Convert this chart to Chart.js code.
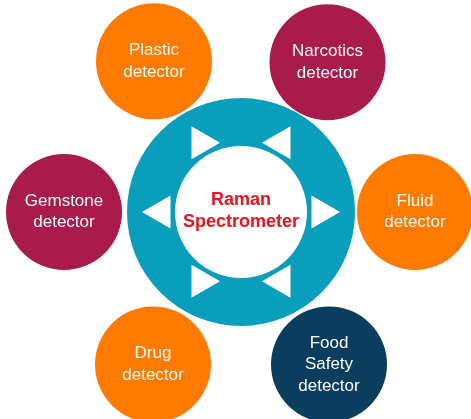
<!DOCTYPE html>
<html><head><meta charset="utf-8">
<script src="https://cdn.jsdelivr.net/npm/chart.js@4.4.1/dist/chart.umd.min.js"></script>
<style>html,body{margin:0;padding:0;background:#fff;overflow:hidden;}</style>
</head><body><canvas id="c" width="471" height="419"></canvas>
<script>
// Detector categories (clockwise from top-left)
const categories = [["Plastic","detector"],["Narcotics","detector"],["Fluid","detector"],["Food","Safety","detector"],["Drug","detector"],["Gemstone","detector"]];
const centerLabel = ["Raman","Spectrometer"];
// radial values (scale units)
const detectorDistance = [174,173,174,176,176,177];
const arrowDistance = [80,80,80,80,80,80];
const hubValue = [0,null,null,null,null,null];

const ORANGE = '#FF7A00', MAROON = '#A81B4A', NAVY = '#0A3D5E', TEAL = '#0A9EBD', RED = '#E8131B';
const circleColors = [ORANGE, MAROON, ORANGE, NAVY, ORANGE, MAROON];
const START_ANGLE = -30;
const arrowRotation = categories.map((_, i) => START_ANGLE + i * 360 / categories.length);

const textPlugin = {
  id: 'texts',
  afterDatasetsDraw(chart) {
    const ctx = chart.ctx;
    ctx.save();
    ctx.textAlign = 'center';
    ctx.textBaseline = 'middle';
    const meta = chart.getDatasetMeta(0);
    ctx.fillStyle = '#FFFDF8';
    ctx.font = '17px "Liberation Sans", Arial, sans-serif';
    meta.data.forEach((pt, i) => {
      const lines = categories[i];
      const lh = 21.5;
      const y0 = pt.y - (lines.length - 1) * lh / 2;
      lines.forEach((t, j) => ctx.fillText(t, pt.x, y0 + j * lh));
    });
    const hub = chart.getDatasetMeta(3).data[0];
    ctx.fillStyle = RED;
    ctx.font = 'bold 18px "Liberation Sans", Arial, sans-serif';
    const lh2 = 22;
    const yc = hub.y - 1 - (centerLabel.length - 1) * lh2 / 2;
    centerLabel.forEach((t, j) => ctx.fillText(t, hub.x, yc + j * lh2));
    ctx.restore();
  }
};

new Chart(document.getElementById('c'), {
  type: 'radar',
  data: {
    labels: categories.map(l => l.join(' ')),
    datasets: [
      { data: detectorDistance, showLine: false, fill: false, clip: false, order: 2,
        pointRadius: 58, pointHoverRadius: 58, pointStyle: 'circle',
        pointBackgroundColor: circleColors, pointBorderWidth: 0, borderWidth: 0 },
      { data: arrowDistance, showLine: false, fill: false, clip: false, order: 0,
        pointRadius: 19, pointStyle: 'triangle', pointRotation: arrowRotation,
        pointBackgroundColor: '#FFFFFF', pointBorderWidth: 0, borderWidth: 0 },
      { data: hubValue, showLine: false, fill: false, clip: false, order: 1,
        pointRadius: 66, pointStyle: 'circle',
        pointBackgroundColor: '#FFFFFF', pointBorderWidth: 0, borderWidth: 0 },
      { data: hubValue, showLine: false, fill: false, clip: false, order: 3,
        pointRadius: 114, pointStyle: 'circle',
        pointBackgroundColor: TEAL, pointBorderWidth: 0, borderWidth: 0 }
    ]
  },
  options: {
    responsive: false,
    devicePixelRatio: 1,
    animation: false,
    events: [],
    layout: { padding: { left: 12, top: 6, right: 0, bottom: 0 } },
    plugins: { legend: { display: false }, tooltip: { enabled: false } },
    scales: {
      r: {
        min: 0, max: 206, startAngle: START_ANGLE,
        grid: { display: false }, angleLines: { display: false },
        ticks: { display: false }, pointLabels: { display: false }
      }
    }
  },
  plugins: [textPlugin]
});
</script>
</body></html>
